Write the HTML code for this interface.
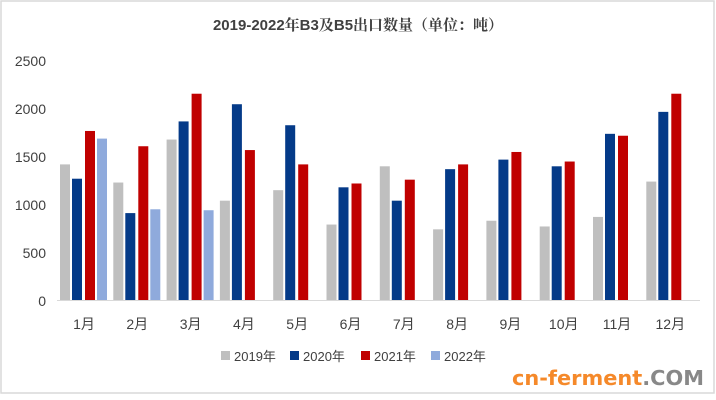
<!DOCTYPE html>
<html><head><meta charset="utf-8"><style>
body{margin:0;background:#fff}
svg{display:block;font-family:"Liberation Sans","Noto Sans CJK SC",sans-serif}
</style></head><body>
<svg width="716" height="400" viewBox="0 0 716 400">
<rect x="1" y="1" width="713" height="392" fill="#fff" stroke="#d9d9d9" stroke-width="1.5"/>
<text x="358" y="30" text-anchor="middle" font-size="15" font-weight="bold" fill="#404040" font-family="'Liberation Sans','Noto Serif CJK SC',serif">2019-2022年B3及B5出口数量（单位：吨）</text>
<g font-size="14" fill="#404040" text-anchor="end">
<text x="46" y="66">2500</text><text x="46" y="114">2000</text><text x="46" y="162">1500</text>
<text x="46" y="210">1000</text><text x="46" y="258">500</text><text x="46" y="306">0</text>
</g>
<line x1="57" y1="300.5" x2="700" y2="300.5" stroke="#d9d9d9"/>
<g id="bars"></g>
<g font-size="14" fill="#404040" text-anchor="middle" id="xl"></g>
<g font-size="13" fill="#404040">
<rect x="221" y="351" width="9" height="9" fill="#bfbfbf"/><text x="234" y="361">2019年</text>
<rect x="290" y="351" width="9" height="9" fill="#043a88"/><text x="303" y="361">2020年</text>
<rect x="361" y="351" width="9" height="9" fill="#c00000"/><text x="374" y="361">2021年</text>
<rect x="431" y="351" width="9" height="9" fill="#8faadc"/><text x="444" y="361">2022年</text>
</g>
<text x="512" y="385" font-size="20" font-weight="bold" fill="#f5892a" font-family="'DejaVu Sans',sans-serif" textLength="192" lengthAdjust="spacingAndGlyphs">cn-ferment<tspan fill="#888">.COM</tspan></text>
</svg>
<script>
var d=[[1420,1230,1680,1040,1150,790,1400,740,830,770,870,1240],
[1270,910,1870,2050,1830,1180,1040,1370,1470,1400,1740,1970],
[1770,1610,2160,1570,1420,1220,1260,1420,1550,1450,1720,2160],
[1690,950,940]];
var c=["#bfbfbf","#043a88","#c00000","#8faadc"],off=[-24,-12,1,13];
var s="",t="";
for(var i=0;i<12;i++){var cx=84+53.3*i;
for(var k=0;k<4;k++){if(d[k][i]==null)continue;var h=d[k][i]*0.0955;
s+='<rect x="'+(cx+off[k])+'" y="'+(300-h)+'" width="10" height="'+h+'" fill="'+c[k]+'"/>';}
t+='<text x="'+cx+'" y="329">'+(i+1)+'月</text>';}
document.getElementById("bars").innerHTML=s;document.getElementById("xl").innerHTML=t;
</script>
</body></html>
